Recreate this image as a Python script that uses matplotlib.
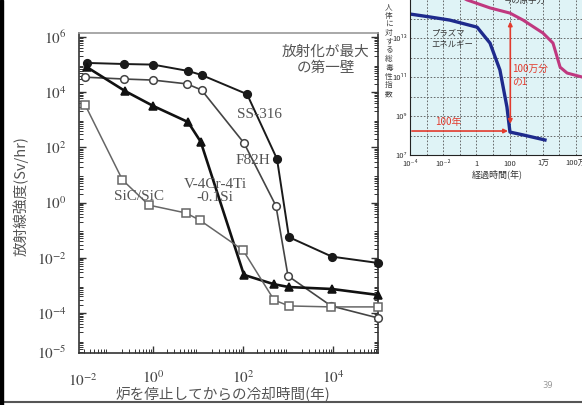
import matplotlib
matplotlib.use("Agg")
import matplotlib.pyplot as plt
from matplotlib.patches import Rectangle
from matplotlib.lines import Line2D
from matplotlib.ticker import LogLocator, NullFormatter

plt.rcParams["mathtext.fontset"] = "stix"
jp = ["Noto Sans CJK JP", "DejaVu Sans"]
serif = ["Liberation Serif", "DejaVu Serif"]

# 冷却時間(年)と放射線強度(Sv/hr)
ss316_t = [0.034, 0.23, 1.0, 6.0, 12, 123, 570, 1050, 9500, 1.0e5]
ss316_v = [1.15e5, 1.05e5, 1.0e5, 5.9e4, 4.2e4, 8.5e3, 38, 0.056, 0.011, 6.5e-3]

f82h_t = [0.031, 0.23, 1.0, 5.7, 12, 105, 540, 1000, 9100, 1.0e5]
f82h_v = [3.5e4, 3.0e4, 2.75e4, 2.0e4, 1.2e4, 145, 0.76, 2.2e-3, 1.8e-4, 6.6e-5]

vcr_t = [0.034, 0.24, 1.0, 6.0, 11.5, 105, 490, 1050, 9500, 1.0e5]
vcr_v = [8.1e4, 1.1e4, 3.2e3, 830, 160, 2.4e-3, 1.1e-3, 8.7e-4, 7.4e-4, 4.5e-4]

sic_t = [0.031, 0.21, 0.81, 5.4, 11, 100, 490, 1050, 9100, 1.0e5]
sic_v = [3.5e3, 6.6, 0.81, 0.42, 0.23, 0.019, 2.95e-4, 1.8e-4, 1.66e-4, 1.66e-4]

series = [
    ("SS-316", ss316_t, ss316_v, "#1a1a1a", 1.4, "o", "#1a1a1a", 5.5),
    ("F82H", f82h_t, f82h_v, "#444444", 1.2, "o", "white", 5.5),
    ("V-4Cr-4Ti-0.1Si", vcr_t, vcr_v, "#111111", 1.9, "^", "#111111", 6),
    ("SiC/SiC", sic_t, sic_v, "#666666", 1.1, "s", "white", 5.5),
]

y_ticks = [1e-4, 1e-2, 1, 1e2, 1e4, 1e6]
y_labels = [r"$10^{-4}$", r"$10^{-2}$", r"$10^{0}$", r"$10^{2}$", r"$10^{4}$", r"$10^{6}$"]
x_ticks = [1, 1e2, 1e4]
x_labels = [r"$10^{0}$", r"$10^{2}$", r"$10^{4}$"]

# 右上の小図: 人体に対する総毒性指数
plasma_t = [1e-4, 1.6e-3, 0.025, 1.1, 6.6, 26, 69, 105, 650, 13500]
plasma_v = [1.7e14, 1.2e14, 8.3e13, 3.6e13, 5.5e12, 2.3e11, 2.9e9, 1.5e8, 1.07e8, 5.9e7]
fission_t = [0.05, 0.27, 6.6, 105, 650, 10200, 41000, 110000, 290000, 2.3e6]
fission_v = [2e15, 9e14, 3.5e14, 1.9e14, 8.3e13, 1.8e13, 5.5e12, 3.2e11, 1.6e11, 1e11]
inset_x_ticks = [1e-4, 1e-2, 1, 1e2, 1e4, 1e6]
inset_x_labels = ["10⁻⁴", "10⁻²", "1", "100", "1万", "100万"]
inset_y_ticks = [1e7, 1e9, 1e11, 1e13]
inset_y_labels = ["10⁷", "10⁹", "10¹¹", "10¹³"]

W, H = 582, 405
fig = plt.figure(figsize=(W / 100, H / 100), dpi=100)

ax = fig.add_axes([79 / W, 1 - 353 / H, 299 / W, 320 / H])
ax.set_xscale("log")
ax.set_yscale("log")
ax.set_xlim(10 ** -1.644, 1e5)
ax.set_ylim(10 ** -5.45, 10 ** 6.145)

for name, t, v, c, lw, mk, fc, ms in series:
    ax.plot(t, v, color=c, lw=lw, marker=mk, markerfacecolor=fc,
            markeredgecolor=c, markeredgewidth=1.1, markersize=ms,
            clip_on=False, zorder=3)

ax.set_yticks(y_ticks)
ax.set_yticklabels(y_labels)
ax.set_xticks(x_ticks)
ax.set_xticklabels(x_labels)
for a in (ax.xaxis, ax.yaxis):
    a.set_minor_locator(LogLocator(base=10, subs=range(2, 10), numticks=100))
    a.set_minor_formatter(NullFormatter())
ax.tick_params(which="both", direction="in", right=True, top=False,
               colors="#333333", labelcolor="#444444", labelsize=11)
ax.tick_params(which="major", length=5, width=1)
ax.tick_params(which="minor", length=3, width=0.7)
ax.tick_params(axis="y", pad=9)
ax.tick_params(axis="x", pad=12)
for s in ax.spines.values():
    s.set_color("#333333")
    s.set_linewidth(1.2)
ax.spines["top"].set_color("#999999")

# 軸端のラベル
ax.text(0.012, -0.06, r"$10^{-2}$", transform=ax.transAxes, ha="center",
        va="top", fontsize=11, color="#444444")
ax.text(-0.042, 0.0, r"$10^{-5}$", transform=ax.transAxes, ha="right",
        va="center", fontsize=11, color="#444444")

ax.text(0.826, 0.916, "放射化が最大\nの第一壁", transform=ax.transAxes,
        ha="center", va="center", fontsize=10.5, color="#555555",
        family=jp, linespacing=1.2)
ax.text(0.605, 0.744, "SS-316", transform=ax.transAxes, ha="center",
        va="center", fontsize=11, color="#555555", family=serif)
ax.text(0.582, 0.603, "F82H", transform=ax.transAxes, ha="center",
        va="center", fontsize=11, color="#555555", family=serif)
ax.text(0.455, 0.506, "V-4Cr-4Ti\n-0.1Si", transform=ax.transAxes,
        ha="center", va="center", fontsize=11, color="#555555",
        family=serif, linespacing=0.95)
ax.text(0.2, 0.49, "SiC/SiC", transform=ax.transAxes, ha="center",
        va="center", fontsize=11, color="#555555", family=serif)

fig.text(21 / W, 1 - 196 / H, "放射線強度(Sv/hr)", rotation=90,
         ha="center", va="center", fontsize=10.5, color="#555555", family=jp)
fig.text(223 / W, 1 - 394 / H, "炉を停止してからの冷却時間(年)",
         ha="center", va="center", fontsize=10.5, color="#555555", family=jp)

# 小図
ins = fig.add_axes([410 / W, 1 - 155 / H, 172 / W, 155 / H])
ins.set_facecolor("#dff3f6")
ins.set_xscale("log")
ins.set_yscale("log")
ins.set_xlim(1e-4, 10 ** 6.36)
ins.set_ylim(1e7, 10 ** 14.95)
ins.set_xticks([10.0 ** k for k in range(-4, 7)], minor=True)
ins.set_yticks([10.0 ** k for k in range(8, 15)], minor=True)
ins.xaxis.set_minor_formatter(NullFormatter())
ins.yaxis.set_minor_formatter(NullFormatter())
ins.grid(True, which="both", color="#555555", ls=(0, (2, 2)), lw=0.6)
ins.set_xticks(inset_x_ticks)
ins.set_xticklabels(inset_x_labels, family=jp)
ins.set_yticks(inset_y_ticks)
ins.set_yticklabels(inset_y_labels, family=jp)
ins.tick_params(which="both", length=0, labelsize=5.5, labelcolor="#333333", pad=2)
ins.tick_params(axis="x", pad=3.5)
for s in ins.spines.values():
    s.set_visible(False)
ins.spines["left"].set_visible(True)
ins.spines["bottom"].set_visible(True)
ins.spines["left"].set_color("#222222")
ins.spines["bottom"].set_color("#222222")

ins.plot(fission_t, fission_v, color="#c0387f", lw=2.2)
ins.plot(plasma_t, plasma_v, color="#1e2a8c", lw=2.4)
ins.annotate("", xy=(110, 10 ** 13.85), xytext=(110, 10 ** 8.6),
             arrowprops=dict(arrowstyle="<|-|>", color="#e23b2e", lw=1.2,
                             mutation_scale=6, shrinkA=0, shrinkB=0))
ins.annotate("", xy=(80, 10 ** 8.23), xytext=(1.3e-4, 10 ** 8.23),
             arrowprops=dict(arrowstyle="-|>", color="#e23b2e", lw=1.2,
                             mutation_scale=6, shrinkA=0, shrinkB=0))
ins.text(150, 10 ** 11.1, "100万分\nの1", ha="left", va="center",
         fontsize=7, color="#e23b2e", family=jp, linespacing=1.3)
ins.text(0.02, 10 ** 8.7, "100年", ha="center", va="center", fontsize=7,
         color="#e23b2e", family=jp)
ins.text(2e-3, 10 ** 13.0, "プラズマ\nエネルギー", ha="left", va="center",
         fontsize=6, color="#333333", family=jp, linespacing=1.3)
ins.text(800, 10 ** 14.93, "今の原子力", ha="center", va="center",
         fontsize=6, color="#333333", family=jp)
fig.text(497 / W, 1 - 174 / H, "経過時間(年)", ha="center", va="center",
         fontsize=6.5, color="#333333", family=jp)
fig.text(389 / W, 1 - 3 / H, "\n".join("人体に対する総毒性指数"), ha="center",
         va="top", fontsize=5.5, color="#444444", family=jp, linespacing=1.12)

fig.text(548 / W, 1 - 386 / H, "39", ha="center", va="center",
         fontsize=6, color="#999999")

# スライドの枠
fig.patches.append(Rectangle((0, 0), 3 / W, 1, transform=fig.transFigure,
                             color="black", zorder=5))
fig.lines.append(Line2D([0, 1], [1 - 402 / H, 1 - 402 / H],
                        transform=fig.transFigure, color="#555555", lw=1.5))

fig.savefig("out.png", dpi=100)
